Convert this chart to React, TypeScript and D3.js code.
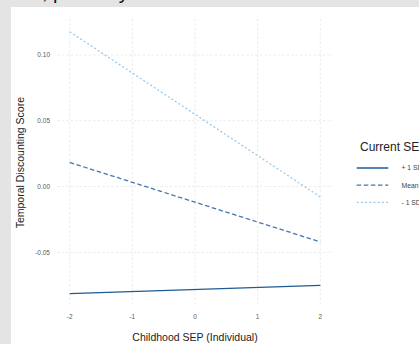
import React from 'react'
import * as d3 from 'd3'

// Childhood SEP (x) at the two ends of each fitted line
const childhoodSep = [-2, 2];
const currentSepLevels = ['+ 1 SD', 'Mean', '- 1 SD'];
const plusOneSd = [-0.0814, -0.0751];
const meanSep = [0.0183, -0.0421];
const minusOneSd = [0.1177, -0.0079];

const xTicks = [-2, -1, 0, 1, 2];
const xTickLabels = ['-2', '-1', '0', '1', '2'];
const yTicks = [-0.05, 0, 0.05, 0.1];
const yTickLabels = ['-0.05', '0.00', '0.05', '0.10'];

const svgWidth = 419;
const svgHeight = 344;

const lineColors = ['#1f5b94', '#4676ad', '#9dc9ea'];
const lineDashes = [null, '4.5,2.6', '2,2.2'];

const allValues = [...plusOneSd, ...meanSep, ...minusOneSd];
const yMin = d3.min(allValues) as number;
const yMax = d3.max(allValues) as number;
const yPad = (yMax - yMin) * 0.05;
const xPad = (childhoodSep[1] - childhoodSep[0]) * 0.05;

const xScale = d3.scaleLinear().domain([-2, 2]).range([69.7, 320.3]);
const yScale = d3.scaleLinear().domain([-0.05, 0.1]).range([252.3, 55]);

const panelLeft = xScale(childhoodSep[0] - xPad);
const panelRight = xScale(childhoodSep[1] + xPad);
const panelTop = yScale(yMax + yPad);
const panelBottom = yScale(yMin - yPad);

const series = [plusOneSd, meanSep, minusOneSd];

const line = d3.line<number>()
  .x((_, i) => xScale(childhoodSep[i]))
  .y((d) => yScale(d));

const font = '"Liberation Sans", Arial, sans-serif';

const App = () => (
  <div style={{ position: 'absolute', left: 0, top: 0 }}>
    <svg width={svgWidth} height={svgHeight} style={{ display: 'block', fontFamily: font }}>
      <rect x={0} y={0} width={svgWidth} height={svgHeight} fill='#e4e4e4' />
      <rect x={11} y={7} width={svgWidth - 11} height={svgHeight - 7} fill='#ffffff' />
      <text x={42} y={-1} fontSize={20} fill='#111'>, primarily</text>

      {/* grid */}
      {xTicks.map((t) => (
        <line key={'gx' + t} x1={xScale(t)} x2={xScale(t)} y1={panelTop} y2={panelBottom}
          stroke='#e6e6e6' strokeWidth={0.8} strokeDasharray='2.5,2' />
      ))}
      {yTicks.map((t) => (
        <line key={'gy' + t} x1={panelLeft} x2={panelRight} y1={yScale(t)} y2={yScale(t)}
          stroke='#e6e6e6' strokeWidth={0.8} strokeDasharray='2.5,2' />
      ))}

      {/* tick labels */}
      {yTicks.map((t, i) => (
        <text key={'ty' + t} x={50} y={yScale(t)} dy='0.35em' textAnchor='end'
          fontSize={6.5} fill='#5a5a5a'>{yTickLabels[i]}</text>
      ))}
      {xTicks.map((t, i) => (
        <text key={'tx' + t} x={xScale(t)} y={317} dy='0.35em' textAnchor='middle'
          fontSize={6.5} fill='#5a5a5a'>{xTickLabels[i]}</text>
      ))}

      {/* lines */}
      {series.map((s, i) => (
        <path key={'s' + i} d={line(s) || ''} fill='none' stroke={lineColors[i]}
          strokeWidth={1.3} strokeDasharray={lineDashes[i] || undefined} />
      ))}

      {/* axis titles */}
      <text x={(panelLeft + panelRight) / 2} y={341} textAnchor='middle' fontSize={10.5} fill='#222'>
        Childhood SEP (Individual)
      </text>
      <text transform={`translate(24,${(panelTop + panelBottom) / 2}) rotate(-90)`} textAnchor='middle'
        fontSize={10.5} fill='#222'>
        Temporal Discounting Score
      </text>

      {/* legend */}
      <text x={360} y={150.5} fontSize={12} fill='#222'>Current SEP</text>
      {currentSepLevels.map((lab, i) => {
        const ly = 168 + i * 17.2;
        return (
          <g key={'lg' + i}>
            <line x1={356.7} x2={388.3} y1={ly} y2={ly} stroke={lineColors[i]} strokeWidth={1.3}
              strokeDasharray={lineDashes[i] || undefined} />
            <text x={401.5} y={ly} dy='0.35em' fontSize={6.8} fill='#444'>{lab}</text>
          </g>
        );
      })}
    </svg>
  </div>
);

export default App
